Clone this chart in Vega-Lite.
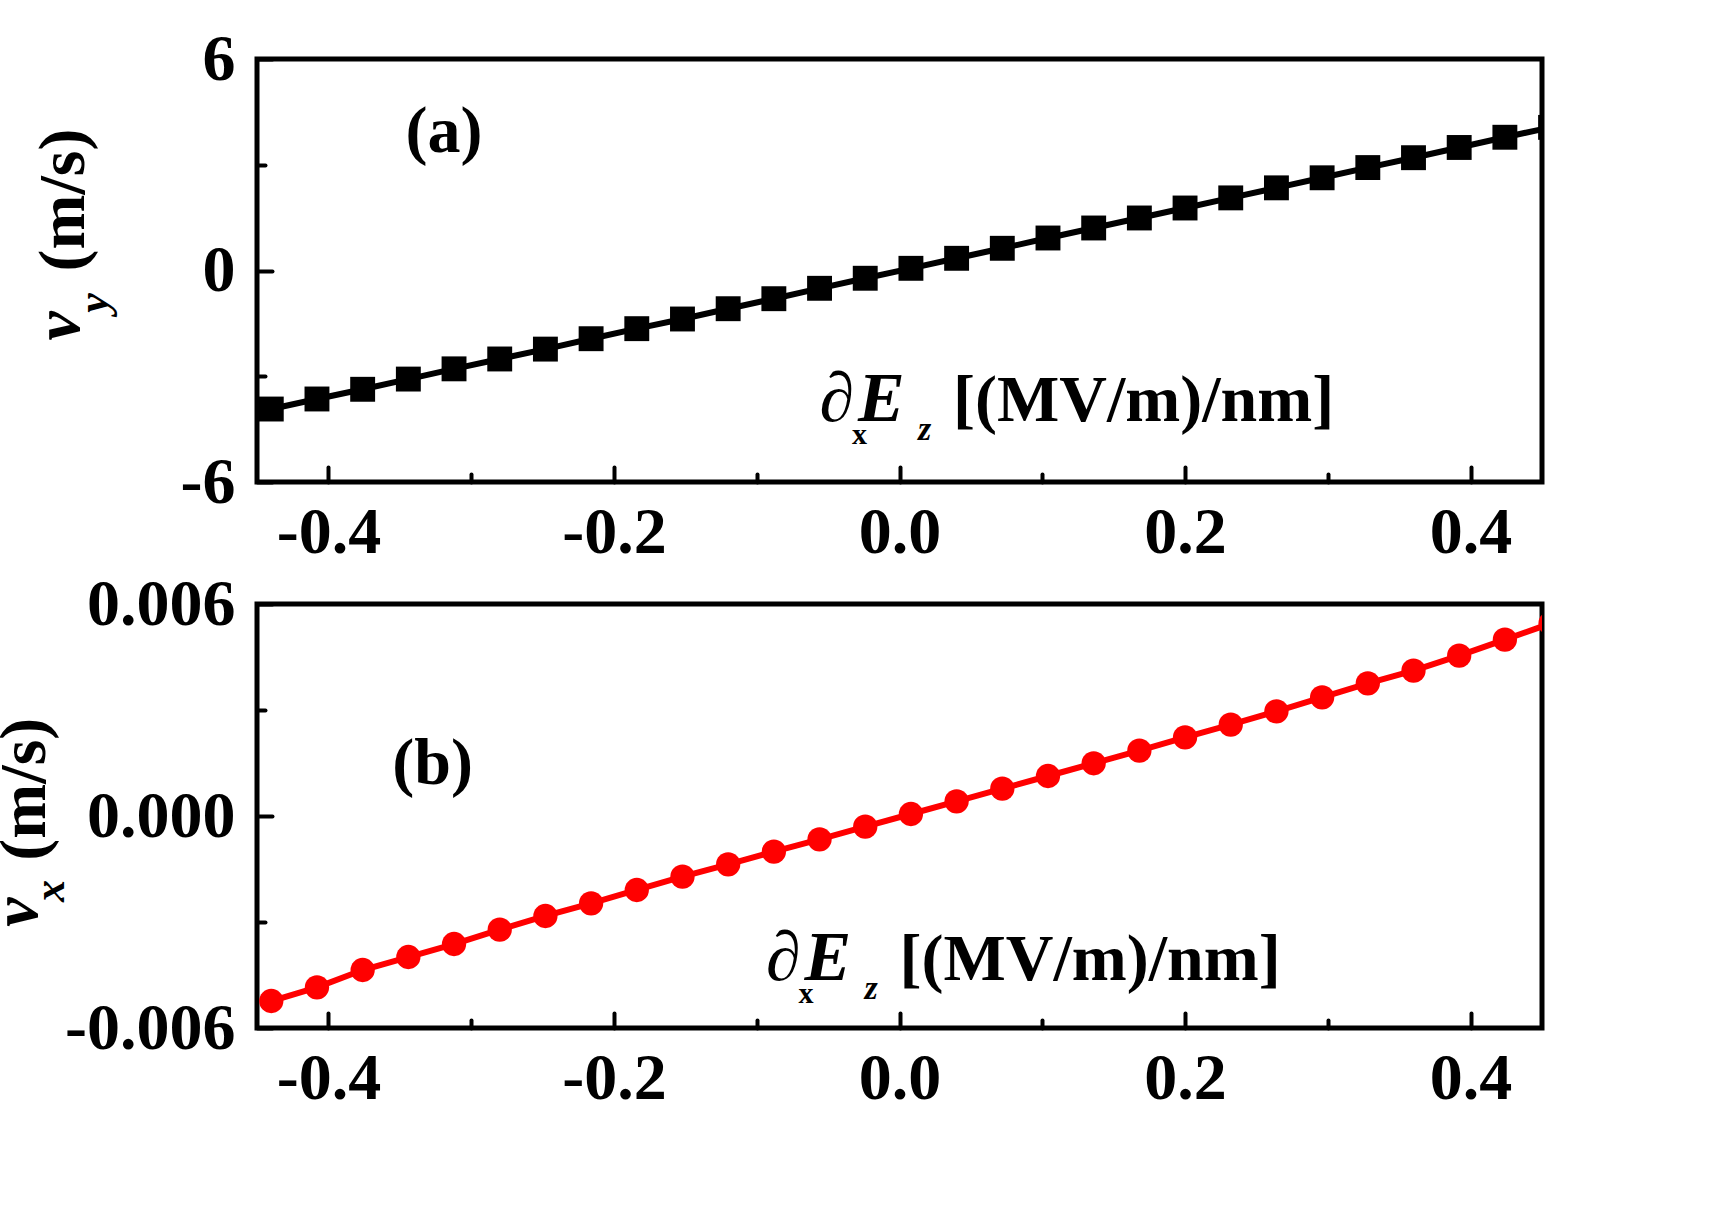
{
  "$schema": "https://vega.github.io/schema/vega-lite/v6.json",
  "background": "white",
  "padding": {"left": -19, "top": 23, "right": 0, "bottom": 0},
  "datasets": {
    "vy": [
      {"E": -0.440, "v": -3.930}, {"E": -0.408, "v": -3.645}, {"E": -0.376, "v": -3.370},
      {"E": -0.344, "v": -3.080}, {"E": -0.312, "v": -2.790}, {"E": -0.280, "v": -2.510},
      {"E": -0.248, "v": -2.230}, {"E": -0.216, "v": -1.935}, {"E": -0.184, "v": -1.650},
      {"E": -0.152, "v": -1.376}, {"E": -0.120, "v": -1.084}, {"E": -0.088, "v": -0.800},
      {"E": -0.056, "v": -0.505}, {"E": -0.024, "v": -0.220}, {"E": 0.008, "v": 0.062},
      {"E": 0.040, "v": 0.346}, {"E": 0.072, "v": 0.630}, {"E": 0.104, "v": 0.922},
      {"E": 0.136, "v": 1.206}, {"E": 0.168, "v": 1.490}, {"E": 0.200, "v": 1.773},
      {"E": 0.232, "v": 2.060}, {"E": 0.264, "v": 2.345}, {"E": 0.296, "v": 2.630},
      {"E": 0.328, "v": 2.920}, {"E": 0.360, "v": 3.200}, {"E": 0.392, "v": 3.490},
      {"E": 0.424, "v": 3.780}, {"E": 0.456, "v": 4.060}
    ],
    "vx": [
      {"E": -0.440, "v": -0.005236}, {"E": -0.408, "v": -0.004848}, {"E": -0.376, "v": -0.004359},
      {"E": -0.344, "v": -0.003991}, {"E": -0.312, "v": -0.003623}, {"E": -0.280, "v": -0.003218},
      {"E": -0.248, "v": -0.002830}, {"E": -0.216, "v": -0.002471}, {"E": -0.184, "v": -0.002094},
      {"E": -0.152, "v": -0.001718}, {"E": -0.120, "v": -0.001367}, {"E": -0.088, "v": -0.001010},
      {"E": -0.056, "v": -0.000660}, {"E": -0.024, "v": -0.000303}, {"E": 0.008, "v": 0.000057},
      {"E": 0.040, "v": 0.000416}, {"E": 0.072, "v": 0.000773}, {"E": 0.104, "v": 0.001132},
      {"E": 0.136, "v": 0.001492}, {"E": 0.168, "v": 0.001848}, {"E": 0.200, "v": 0.002227},
      {"E": 0.232, "v": 0.002584}, {"E": 0.264, "v": 0.002963}, {"E": 0.296, "v": 0.003359},
      {"E": 0.328, "v": 0.003756}, {"E": 0.360, "v": 0.004112}, {"E": 0.392, "v": 0.004537},
      {"E": 0.424, "v": 0.004990}, {"E": 0.456, "v": 0.005450}
    ]
  },
  "vconcat": [
    {
      "width": 1285,
      "height": 423,
      "resolve": {"axis": {"x": "independent", "y": "independent"}},
      "layer": [
        {
          "data": {"name": "vy"},
          "mark": {"type": "line", "clip": true, "color": "black", "strokeWidth": 6},
          "encoding": {
            "x": {"field": "E", "type": "quantitative",
                  "scale": {"domain": [-0.45, 0.45], "nice": false, "zero": false},
                  "axis": {"orient": "bottom", "title": null, "values": [-0.4, -0.2, 0, 0.2, 0.4],
                           "labelExpr": "replace(format(datum.value, '.1f'), '\u2212', '-')",
                           "tickSize": -15, "labelPadding": 33}},
            "y": {"field": "v", "type": "quantitative",
                  "scale": {"domain": [-6, 6], "nice": false, "zero": false},
                  "axis": {"orient": "left", "title": null, "values": [-6, 0, 6],
                           "labelExpr": "replace(format(datum.value, 'd'), '\u2212', '-')",
                           "tickSize": -15, "labelPadding": 37}}
          }
        },
        {
          "data": {"name": "vy"},
          "mark": {"type": "point", "shape": "square", "filled": true, "size": 620, "clip": true, "color": "black", "opacity": 1},
          "encoding": {
            "x": {"field": "E", "type": "quantitative",
                  "axis": {"orient": "bottom", "title": null, "values": [-0.3, -0.1, 0.1, 0.3], "labels": false, "tickSize": -8}},
            "y": {"field": "v", "type": "quantitative",
                  "axis": {"orient": "left", "title": null, "values": [-3, 3], "labels": false, "tickSize": -8}}
          }
        },
        {
          "data": {"values": [{}]},
          "mark": {"type": "text", "text": "(a)", "font": "Liberation Serif", "fontWeight": "bold", "fontSize": 66, "align": "center", "baseline": "alphabetic"},
          "encoding": {"x": {"datum": -0.319, "type": "quantitative", "axis": null}, "y": {"datum": 3.36, "type": "quantitative", "axis": null}}
        },
        {
          "data": {"values": [{}]},
          "mark": {"type": "text", "text": "\u2202", "font": "Liberation Serif", "fontSize": 70, "align": "left", "baseline": "alphabetic"},
          "encoding": {"x": {"datum": -0.056, "type": "quantitative", "axis": null}, "y": {"datum": -4.27, "type": "quantitative", "axis": null}}
        },
        {
          "data": {"values": [{}]},
          "mark": {"type": "text", "text": "x", "font": "Liberation Serif", "fontWeight": "bold", "fontSize": 30, "align": "left", "baseline": "alphabetic"},
          "encoding": {"x": {"datum": -0.0333, "type": "quantitative", "axis": null}, "y": {"datum": -4.92, "type": "quantitative", "axis": null}}
        },
        {
          "data": {"values": [{}]},
          "mark": {"type": "text", "text": "E", "font": "Liberation Serif", "fontWeight": "bold", "fontStyle": "italic", "fontSize": 70, "align": "left", "baseline": "alphabetic"},
          "encoding": {"x": {"datum": -0.029, "type": "quantitative", "axis": null}, "y": {"datum": -4.27, "type": "quantitative", "axis": null}}
        },
        {
          "data": {"values": [{}]},
          "mark": {"type": "text", "text": "z", "font": "Liberation Serif", "fontWeight": "bold", "fontStyle": "italic", "fontSize": 34, "align": "left", "baseline": "alphabetic"},
          "encoding": {"x": {"datum": 0.013, "type": "quantitative", "axis": null}, "y": {"datum": -4.8, "type": "quantitative", "axis": null}}
        },
        {
          "data": {"values": [{}]},
          "mark": {"type": "text", "text": "[(MV/m)/nm]", "font": "Liberation Serif", "fontWeight": "bold", "fontSize": 66, "align": "left", "baseline": "alphabetic"},
          "encoding": {"x": {"datum": 0.0375, "type": "quantitative", "axis": null}, "y": {"datum": -4.27, "type": "quantitative", "axis": null}}
        },
        {
          "data": {"values": [{}]},
          "mark": {"type": "text", "text": "(m/s)", "font": "Liberation Serif", "fontWeight": "bold", "fontSize": 66, "angle": 270, "align": "center", "baseline": "alphabetic"},
          "encoding": {"x": {"datum": -0.571, "type": "quantitative", "axis": null}, "y": {"datum": 2.0, "type": "quantitative", "axis": null}}
        },
        {
          "data": {"values": [{}]},
          "mark": {"type": "text", "text": "v", "font": "Liberation Serif", "fontWeight": "bold", "fontStyle": "italic", "fontSize": 66, "angle": 270, "align": "center", "baseline": "alphabetic"},
          "encoding": {"x": {"datum": -0.5747, "type": "quantitative", "axis": null}, "y": {"datum": -1.57, "type": "quantitative", "axis": null}}
        },
        {
          "data": {"values": [{}]},
          "mark": {"type": "text", "text": "y", "font": "Liberation Serif", "fontWeight": "bold", "fontStyle": "italic", "fontSize": 44, "angle": 270, "align": "center", "baseline": "alphabetic"},
          "encoding": {"x": {"datum": -0.5544, "type": "quantitative", "axis": null}, "y": {"datum": -0.92, "type": "quantitative", "axis": null}}
        }
      ]
    },
    {
      "width": 1285,
      "height": 424,
      "resolve": {"axis": {"x": "independent", "y": "independent"}},
      "layer": [
        {
          "data": {"name": "vx"},
          "mark": {"type": "line", "clip": true, "color": "#ff0000", "strokeWidth": 6},
          "encoding": {
            "x": {"field": "E", "type": "quantitative",
                  "scale": {"domain": [-0.45, 0.45], "nice": false, "zero": false},
                  "axis": {"orient": "bottom", "title": null, "values": [-0.4, -0.2, 0, 0.2, 0.4],
                           "labelExpr": "replace(format(datum.value, '.1f'), '\u2212', '-')",
                           "tickSize": -15, "labelPadding": 33}},
            "y": {"field": "v", "type": "quantitative",
                  "scale": {"domain": [-0.006, 0.006], "nice": false, "zero": false},
                  "axis": {"orient": "left", "title": null, "values": [-0.006, 0, 0.006],
                           "labelExpr": "replace(format(datum.value, '.3f'), '\u2212', '-')",
                           "tickSize": -15, "labelPadding": 37}}
          }
        },
        {
          "data": {"name": "vx"},
          "mark": {"type": "point", "shape": "circle", "filled": true, "size": 590, "clip": true, "color": "#ff0000", "opacity": 1},
          "encoding": {
            "x": {"field": "E", "type": "quantitative",
                  "axis": {"orient": "bottom", "title": null, "values": [-0.3, -0.1, 0.1, 0.3], "labels": false, "tickSize": -8}},
            "y": {"field": "v", "type": "quantitative",
                  "axis": {"orient": "left", "title": null, "values": [-0.003, 0.003], "labels": false, "tickSize": -8}}
          }
        },
        {
          "data": {"values": [{}]},
          "mark": {"type": "text", "text": "(b)", "font": "Liberation Serif", "fontWeight": "bold", "fontSize": 66, "align": "center", "baseline": "alphabetic"},
          "encoding": {"x": {"datum": -0.327, "type": "quantitative", "axis": null}, "y": {"datum": 0.0009, "type": "quantitative", "axis": null}}
        },
        {
          "data": {"values": [{}]},
          "mark": {"type": "text", "text": "\u2202", "font": "Liberation Serif", "fontSize": 70, "align": "left", "baseline": "alphabetic"},
          "encoding": {"x": {"datum": -0.0935, "type": "quantitative", "axis": null}, "y": {"datum": -0.00464, "type": "quantitative", "axis": null}}
        },
        {
          "data": {"values": [{}]},
          "mark": {"type": "text", "text": "x", "font": "Liberation Serif", "fontWeight": "bold", "fontSize": 30, "align": "left", "baseline": "alphabetic"},
          "encoding": {"x": {"datum": -0.0708, "type": "quantitative", "axis": null}, "y": {"datum": -0.00529, "type": "quantitative", "axis": null}}
        },
        {
          "data": {"values": [{}]},
          "mark": {"type": "text", "text": "E", "font": "Liberation Serif", "fontWeight": "bold", "fontStyle": "italic", "fontSize": 70, "align": "left", "baseline": "alphabetic"},
          "encoding": {"x": {"datum": -0.0665, "type": "quantitative", "axis": null}, "y": {"datum": -0.00464, "type": "quantitative", "axis": null}}
        },
        {
          "data": {"values": [{}]},
          "mark": {"type": "text", "text": "z", "font": "Liberation Serif", "fontWeight": "bold", "fontStyle": "italic", "fontSize": 34, "align": "left", "baseline": "alphabetic"},
          "encoding": {"x": {"datum": -0.0245, "type": "quantitative", "axis": null}, "y": {"datum": -0.00519, "type": "quantitative", "axis": null}}
        },
        {
          "data": {"values": [{}]},
          "mark": {"type": "text", "text": "[(MV/m)/nm]", "font": "Liberation Serif", "fontWeight": "bold", "fontSize": 66, "align": "left", "baseline": "alphabetic"},
          "encoding": {"x": {"datum": 0.0, "type": "quantitative", "axis": null}, "y": {"datum": -0.00464, "type": "quantitative", "axis": null}}
        },
        {
          "data": {"values": [{}]},
          "mark": {"type": "text", "text": "(m/s)", "font": "Liberation Serif", "fontWeight": "bold", "fontSize": 66, "angle": 270, "align": "center", "baseline": "alphabetic"},
          "encoding": {"x": {"datum": -0.5985, "type": "quantitative", "axis": null}, "y": {"datum": 0.00076, "type": "quantitative", "axis": null}}
        },
        {
          "data": {"values": [{}]},
          "mark": {"type": "text", "text": "v", "font": "Liberation Serif", "fontWeight": "bold", "fontStyle": "italic", "fontSize": 66, "angle": 270, "align": "center", "baseline": "alphabetic"},
          "encoding": {"x": {"datum": -0.6041, "type": "quantitative", "axis": null}, "y": {"datum": -0.00272, "type": "quantitative", "axis": null}}
        },
        {
          "data": {"values": [{}]},
          "mark": {"type": "text", "text": "x", "font": "Liberation Serif", "fontWeight": "bold", "fontStyle": "italic", "fontSize": 44, "angle": 270, "align": "center", "baseline": "alphabetic"},
          "encoding": {"x": {"datum": -0.5855, "type": "quantitative", "axis": null}, "y": {"datum": -0.00212, "type": "quantitative", "axis": null}}
        }
      ]
    }
  ],
  "spacing": 122,
  "bounds": "flush",
  "config": {
    "view": {"stroke": "black", "strokeWidth": 5},
    "axis": {
      "domain": false,
      "grid": false,
      "labelFont": "Liberation Serif",
      "labelFontWeight": "bold",
      "labelFontSize": 66,
      "labelColor": "black",
      "labelOverlap": false,
      "labelFlush": false,
      "labelBound": false,
      "tickColor": "black",
      "tickWidth": 4,
      "tickCap": "round"
    }
  }
}
